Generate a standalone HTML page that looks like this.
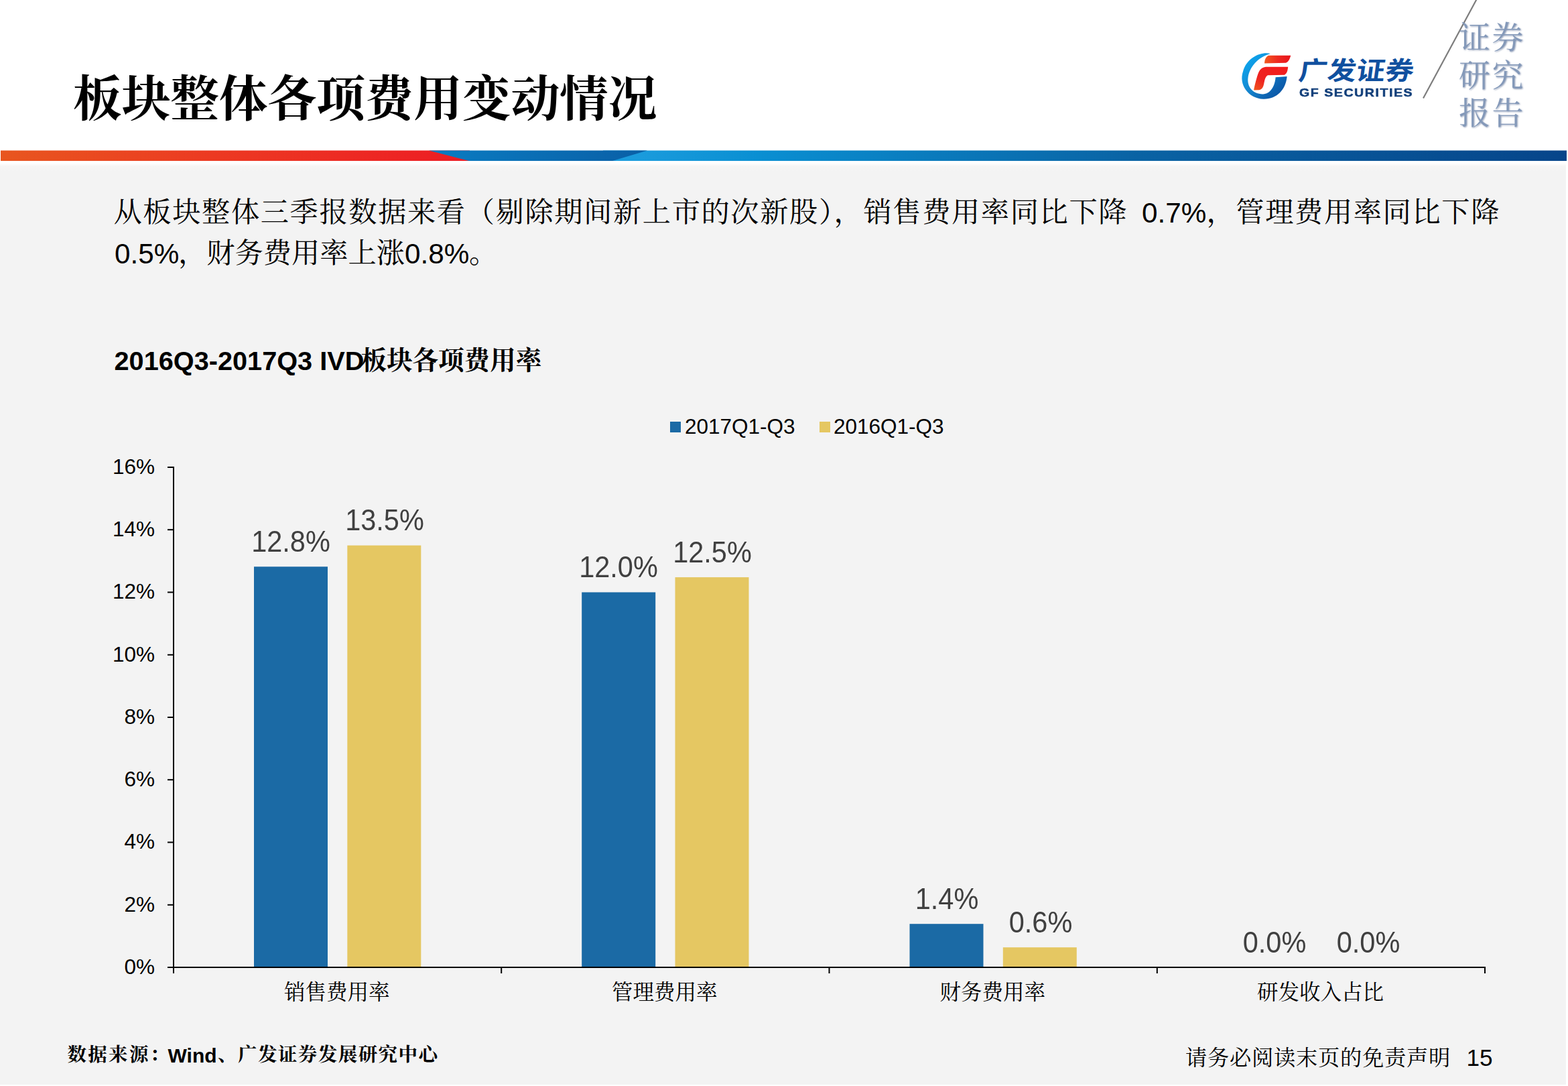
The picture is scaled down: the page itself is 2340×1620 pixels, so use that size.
<!DOCTYPE html>
<html lang="zh-CN"><head><meta charset="utf-8"><title>板块整体各项费用变动情况</title>
<style>
html,body{margin:0;padding:0;background:#fff;overflow:hidden}
body{width:2340px;height:1620px}
.page{width:2340px;height:1620px;position:relative;overflow:hidden;background:#fff;font-family:"Liberation Sans",sans-serif;color:#000}
.panel{position:absolute;left:0;top:240px;width:2337px;height:1378px;background:linear-gradient(#fff 0,#fff 3px,#f6f5f4 8px,#f3f3f3 16px,#f3f3f3 100%)}
svg.band,svg.chart{position:absolute}
.k{position:absolute;overflow:visible}
.k svg{position:absolute;left:0;top:0;overflow:visible}
.ht{position:absolute;color:#000;white-space:nowrap;line-height:1;font-family:"Liberation Serif","Noto Serif CJK SC",serif;user-select:text}
.a{position:absolute;white-space:nowrap;font-family:"Liberation Sans",sans-serif}
.sq{position:absolute;width:16px;height:16px}
.gfs{left:1938.5px;top:130.5px;font-size:16.6px;line-height:16.6px;font-weight:700;color:#123f7a;letter-spacing:1.3px;transform:scale(1.18,1);transform-origin:0 0;-webkit-text-stroke:.5px #123f7a}
</style></head><body>
<div class="page">
<div class="panel"></div>
<svg class="band" width="2340" height="18" viewBox="0 0 2340 18" style="left:0;top:223px">
<defs>
<linearGradient id="gr" x1="0" x2="1"><stop offset="0" stop-color="#e8561f"/><stop offset=".45" stop-color="#ec3a22"/><stop offset="1" stop-color="#ed1c24"/></linearGradient>
<linearGradient id="gb1" x1="0" x2="1"><stop offset="0" stop-color="#0a7cc2"/><stop offset="1" stop-color="#0a5fa6"/></linearGradient>
<linearGradient id="gb2" x1="0" x2="1"><stop offset="0" stop-color="#1a9bdc"/><stop offset=".04" stop-color="#1a9bdc"/><stop offset=".16" stop-color="#0a8fd2"/><stop offset=".55" stop-color="#0a63a4"/><stop offset="1" stop-color="#06458a"/></linearGradient>
</defs>
<rect x="1" y="1.5" width="700" height="15.5" fill="url(#gr)"/>
<rect x="900" y="1.5" width="1438" height="15.5" fill="url(#gb2)"/>
<polygon points="640,1.5 966,1.5 914,17 700,17" fill="url(#gb1)"/>
</svg>
<svg class="logo" width="500" height="215" viewBox="1840 0 500 215" style="position:absolute;left:1840px;top:0">
<defs>
<linearGradient id="lg1" x1="0" y1="0" x2="1" y2="1"><stop offset="0" stop-color="#06aef8"/><stop offset=".45" stop-color="#168ad2"/><stop offset=".75" stop-color="#0d62b0"/><stop offset="1" stop-color="#0a4c9c"/></linearGradient>
<linearGradient id="lg2" x1="0" x2="1"><stop offset="0" stop-color="#f25a1e"/><stop offset=".5" stop-color="#ee2a20"/><stop offset="1" stop-color="#e8141c"/></linearGradient>
<linearGradient id="lg3" x1="0" y1="1" x2="1" y2="0"><stop offset="0" stop-color="#f0581e"/><stop offset=".35" stop-color="#ee2220"/><stop offset="1" stop-color="#f41c1c"/></linearGradient>
<filter id="sh" x="-10%" y="-10%" width="130%" height="130%"><feGaussianBlur in="SourceAlpha" stdDeviation="1.3"/><feOffset dx="1.5" dy="1.5"/><feComponentTransfer><feFuncA type="linear" slope=".55"/></feComponentTransfer><feFlood flood-color="#5a6f96"/><feComposite in2="SourceAlpha" operator="in"/></filter>
</defs>
<g transform="translate(1845,70) scale(0.05325)">
<path fill="url(#lg1)" d="M955,188 C720,120 300,280 190,680 C60,1050 330,1440 760,1462 C1130,1470 1390,1200 1420,828 L1100,850 C1085,1090 960,1322 740,1322 C470,1320 290,1120 330,850 C370,570 600,290 955,188 Z"/>
<path fill="url(#lg2)" d="M905,240 L1525,240 C1500,340 1460,420 1390,445 L790,462 C790,360 830,270 905,240 Z"/>
<path fill="url(#lg3)" d="M830,560 L1450,560 C1440,660 1420,750 1350,782 L880,795 C820,830 800,900 780,1000 C760,1120 730,1190 640,1205 L490,1212 C510,1100 560,900 600,780 C640,660 700,570 830,560 Z"/>
</g>
<text transform="translate(1936.5,119.0) scale(1,0.885) skewX(-7)" font-size="43" font-weight="700" fill="#10509f" font-family='"Liberation Sans","Noto Sans CJK SC",sans-serif'>广发证券</text>
<line x1="2203.6" y1="-1" x2="2124" y2="146.5" stroke="#7d7d7d" stroke-width="2.2"/>
<g style="filter:drop-shadow(1.6px 1.6px 1.3px rgba(70,92,135,.62))">
<text x="2177" y="71.5" font-size="47" letter-spacing="2.5" fill="#8499b9" font-family='"Liberation Serif","Noto Serif CJK SC",serif'>证券</text>
<text x="2177" y="129" font-size="47" letter-spacing="2.5" fill="#8499b9" font-family='"Liberation Serif","Noto Serif CJK SC",serif'>研究</text>
<text x="2177" y="185" font-size="47" letter-spacing="2.5" fill="#8499b9" font-family='"Liberation Serif","Noto Serif CJK SC",serif'>报告</text>
</g>
</svg>
<div class="a gfs">GF SECURITIES</div>
<div class="k title" style="left:99.00px;top:99.85px;width:892px;height:102px;"><span class="ht" style="font-size:73.00px;letter-spacing:-0.40px;left:10px;top:12.4px;font-weight:700">板块整体各项费用变动情况</span></div>
<div class="k " style="left:159.50px;top:289.14px;width:1553px;height:59px;"><span class="ht" style="font-size:42.25px;letter-spacing:1.60px;left:10px;top:7.2px">从板块整体三季报数据来看（剔除期间新上市的次新股），销售费用率同比下降</span></div>
<div class="a " style="left:1704.00px;top:296.74px;font-size:42.25px;line-height:42.25px;">0.7%</div>
<div class="k " style="left:1790.50px;top:289.14px;width:457px;height:59px;"><span class="ht" style="font-size:42.25px;letter-spacing:1.60px;left:10px;top:7.2px">，管理费用率同比下降</span></div>
<div class="a " style="left:171.00px;top:358.24px;font-size:42.25px;line-height:42.25px;">0.5%</div>
<div class="k " style="left:256.00px;top:350.14px;width:358px;height:59px;"><span class="ht" style="font-size:42.25px;letter-spacing:0.00px;left:10px;top:7.2px">，财务费用率上涨</span></div>
<div class="a " style="left:604.00px;top:358.24px;font-size:42.25px;line-height:42.25px;">0.8%</div>
<div class="k " style="left:690.00px;top:350.14px;width:62px;height:59px;"><span class="ht" style="font-size:42.25px;letter-spacing:0.00px;left:10px;top:7.2px">。</span></div>
<div class="a " style="left:170.50px;top:519.09px;font-size:39.7px;line-height:39.7px;font-weight:700;">2016Q3-2017Q3 IVD</div>
<div class="k " style="left:528.50px;top:512.47px;width:290px;height:54px;"><span class="ht" style="font-size:38.60px;letter-spacing:-0.05px;left:10px;top:6.6px;font-weight:700">板块各项费用率</span></div>
<div class="sq" style="left:1000px;top:629px;background:#1b6aa5"></div>
<div class="a " style="left:1022.00px;top:620.64px;font-size:31.5px;line-height:31.5px;">2017Q1-Q3</div>
<div class="sq" style="left:1222.5px;top:629px;background:#e5c762"></div>
<div class="a " style="left:1244.00px;top:620.64px;font-size:31.5px;line-height:31.5px;">2016Q1-Q3</div>
<div class="a " style="left:284.00px;width:300px;text-align:center;top:787.04px;font-size:43.5px;line-height:43.5px;color:#404040;transform:scaleX(0.954);transform-origin:50% 0;">12.8%</div>
<div class="a " style="left:424.10px;width:300px;text-align:center;top:755.34px;font-size:43.5px;line-height:43.5px;color:#404040;transform:scaleX(0.954);transform-origin:50% 0;">13.5%</div>
<div class="a " style="left:773.25px;width:300px;text-align:center;top:825.28px;font-size:43.5px;line-height:43.5px;color:#404040;transform:scaleX(0.954);transform-origin:50% 0;">12.0%</div>
<div class="a " style="left:913.35px;width:300px;text-align:center;top:802.90px;font-size:43.5px;line-height:43.5px;color:#404040;transform:scaleX(0.954);transform-origin:50% 0;">12.5%</div>
<div class="a " style="left:1262.50px;width:300px;text-align:center;top:1319.97px;font-size:43.5px;line-height:43.5px;color:#404040;transform:scaleX(0.954);transform-origin:50% 0;">1.4%</div>
<div class="a " style="left:1402.60px;width:300px;text-align:center;top:1354.94px;font-size:43.5px;line-height:43.5px;color:#404040;transform:scaleX(0.954);transform-origin:50% 0;">0.6%</div>
<div class="a " style="left:1751.75px;width:300px;text-align:center;top:1384.78px;font-size:43.5px;line-height:43.5px;color:#404040;transform:scaleX(0.954);transform-origin:50% 0;">0.0%</div>
<div class="a " style="left:1891.85px;width:300px;text-align:center;top:1384.78px;font-size:43.5px;line-height:43.5px;color:#404040;transform:scaleX(0.954);transform-origin:50% 0;">0.0%</div>
<div class="a " style="right:2109.00px;top:1426.84px;font-size:31.5px;line-height:31.5px;">0%</div>
<div class="a " style="right:2109.00px;top:1333.59px;font-size:31.5px;line-height:31.5px;">2%</div>
<div class="a " style="right:2109.00px;top:1240.34px;font-size:31.5px;line-height:31.5px;">4%</div>
<div class="a " style="right:2109.00px;top:1147.09px;font-size:31.5px;line-height:31.5px;">6%</div>
<div class="a " style="right:2109.00px;top:1053.84px;font-size:31.5px;line-height:31.5px;">8%</div>
<div class="a " style="right:2109.00px;top:960.59px;font-size:31.5px;line-height:31.5px;">10%</div>
<div class="a " style="right:2109.00px;top:867.34px;font-size:31.5px;line-height:31.5px;">12%</div>
<div class="a " style="right:2109.00px;top:774.09px;font-size:31.5px;line-height:31.5px;">14%</div>
<div class="a " style="right:2109.00px;top:680.84px;font-size:31.5px;line-height:31.5px;">16%</div>
<svg class="chart" width="2340" height="1620" viewBox="0 0 2340 1620" style="left:0;top:0"><rect x="379.0" y="845.3" width="110" height="597.7" fill="#1b6aa5"/><rect x="518.3" y="813.6" width="110" height="629.4" fill="#e5c762"/><rect x="868.2" y="883.5" width="110" height="559.5" fill="#1b6aa5"/><rect x="1007.5" y="861.1" width="110" height="581.9" fill="#e5c762"/><rect x="1357.5" y="1378.2" width="110" height="64.8" fill="#1b6aa5"/><rect x="1496.8" y="1413.2" width="110" height="29.8" fill="#e5c762"/><rect x="258" y="696" width="2" height="756" fill="#000"/><rect x="250" y="1442" width="1967" height="2" fill="#000"/><rect x="250" y="1442.0" width="9" height="2" fill="#000"/><rect x="250" y="1348.8" width="9" height="2" fill="#000"/><rect x="250" y="1255.5" width="9" height="2" fill="#000"/><rect x="250" y="1162.2" width="9" height="2" fill="#000"/><rect x="250" y="1069.0" width="9" height="2" fill="#000"/><rect x="250" y="975.8" width="9" height="2" fill="#000"/><rect x="250" y="882.5" width="9" height="2" fill="#000"/><rect x="250" y="789.2" width="9" height="2" fill="#000"/><rect x="250" y="696.0" width="9" height="2" fill="#000"/><rect x="747.2" y="1443" width="2" height="9" fill="#000"/><rect x="1236.5" y="1443" width="2" height="9" fill="#000"/><rect x="1725.8" y="1443" width="2" height="9" fill="#000"/><rect x="2215.0" y="1443" width="2" height="9" fill="#000"/></svg>
<div class="k " style="left:413.88px;top:1459.92px;width:178px;height:44px;"><span class="ht" style="font-size:31.50px;letter-spacing:0.00px;left:10px;top:5.4px">销售费用率</span></div>
<div class="k " style="left:903.12px;top:1459.92px;width:178px;height:44px;"><span class="ht" style="font-size:31.50px;letter-spacing:0.00px;left:10px;top:5.4px">管理费用率</span></div>
<div class="k " style="left:1392.38px;top:1459.92px;width:178px;height:44px;"><span class="ht" style="font-size:31.50px;letter-spacing:0.00px;left:10px;top:5.4px">财务费用率</span></div>
<div class="k " style="left:1865.88px;top:1459.92px;width:209px;height:44px;"><span class="ht" style="font-size:31.50px;letter-spacing:0.00px;left:10px;top:5.4px">研发收入占比</span></div>
<div class="k " style="left:90.50px;top:1555.58px;width:172px;height:40px;"><span class="ht" style="font-size:28.50px;letter-spacing:2.30px;left:10px;top:4.8px;font-weight:700">数据来源：</span></div>
<div class="a " style="left:250.50px;top:1560.01px;font-size:30px;line-height:30px;font-weight:700;">Wind</div>
<div class="k " style="left:315.00px;top:1555.58px;width:348px;height:40px;"><span class="ht" style="font-size:28.50px;letter-spacing:1.45px;left:10px;top:4.8px;font-weight:700">、广发证券发展研究中心</span></div>
<div class="k " style="left:1759.00px;top:1556.59px;width:415px;height:45px;"><span class="ht" style="font-size:32.30px;letter-spacing:0.70px;left:10px;top:5.5px">请务必阅读末页的免责声明</span></div>
<div class="a " style="left:2188.50px;top:1559.60px;font-size:35.2px;line-height:35.2px;">15</div>
</div>
</body></html>
